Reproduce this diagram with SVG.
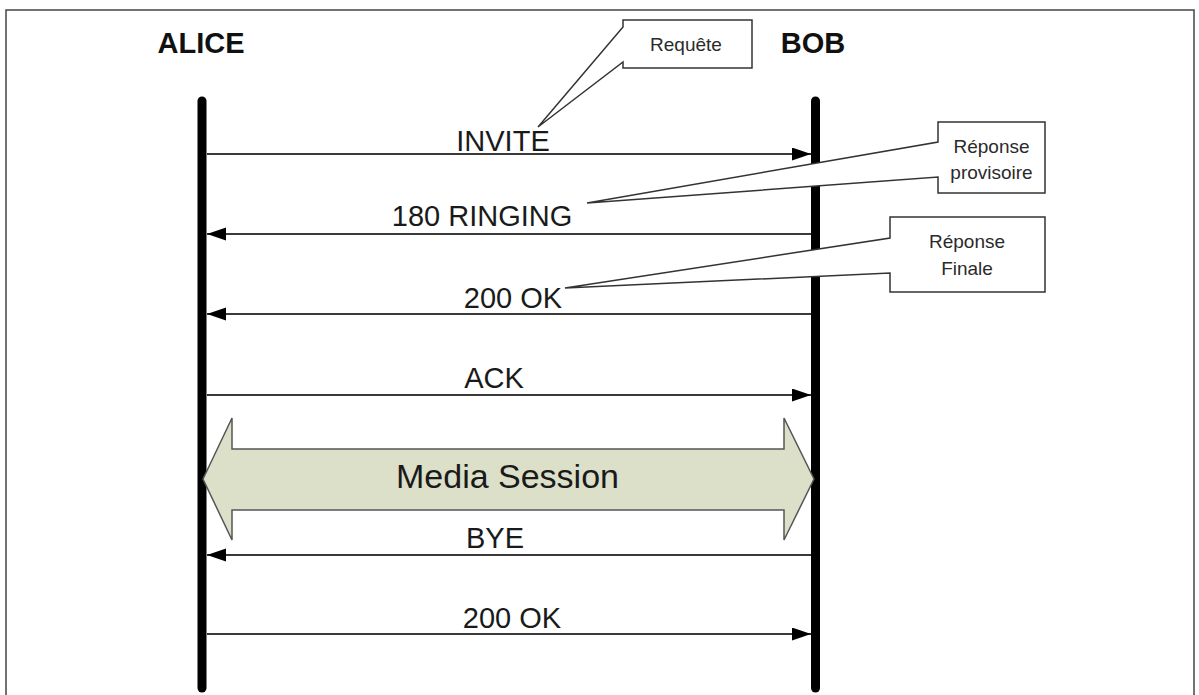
<svg xmlns="http://www.w3.org/2000/svg" width="1199" height="695" viewBox="0 0 1199 695">
  <style>
    .life { stroke: #000; stroke-width: 9; stroke-linecap: round; fill: none; }
    .msg { stroke: #3a3a3a; stroke-width: 2; fill: none; marker-end: url(#ah); }
    .lbl { font-family: "Liberation Sans", Arial, sans-serif; font-size: 29px; fill: #1a1a1a; text-anchor: middle; }
    .actor { font-family: "Liberation Sans", Arial, sans-serif; font-size: 29px; font-weight: bold; fill: #111; text-anchor: middle; }
    .call { fill: #fff; stroke: #333; stroke-width: 1.5; stroke-linejoin: miter; }
    .ctext { font-family: "Liberation Sans", Arial, sans-serif; font-size: 19px; fill: #2a2a2a; text-anchor: middle; }
  </style>
  <defs>
    <marker id="ah" markerUnits="userSpaceOnUse" markerWidth="20" markerHeight="14" refX="19" refY="6.5" orient="auto">
      <path d="M0,0 L19,6.5 L0,13 z" fill="#000"/>
    </marker>
  </defs>
  <rect x="0" y="0" width="1199" height="695" fill="#fff"/>
  <rect x="6" y="10" width="1188" height="700" fill="none" stroke="#444" stroke-width="1.5"/>

  <g id="alice">
    <text class="actor" x="201" y="53">ALICE</text>
    <line class="life" x1="202" y1="101" x2="202" y2="688"/>
  </g>
  <g id="bob">
    <text class="actor" x="813" y="53">BOB</text>
    <line class="life" x1="815.5" y1="101" x2="815.5" y2="688"/>
  </g>

  <g id="connectors">
    <line class="msg" x1="207" y1="154" x2="811" y2="154"/>
    <line class="msg" x1="811" y1="234" x2="207" y2="234"/>
    <line class="msg" x1="811" y1="314" x2="207" y2="314"/>
    <line class="msg" x1="207" y1="395" x2="811" y2="395"/>
    <line class="msg" x1="811" y1="555" x2="207" y2="555"/>
    <line class="msg" x1="207" y1="634" x2="811" y2="634"/>
  </g>

  <g id="labels">
    <text class="lbl" x="503" y="151">INVITE</text>
    <text class="lbl" x="482" y="226">180 RINGING</text>
    <text class="lbl" x="513" y="308">200 OK</text>
    <text class="lbl" x="494" y="388">ACK</text>
    <text class="lbl" x="495" y="548">BYE</text>
    <text class="lbl" x="512" y="628">200 OK</text>
  </g>

  <g id="media-session">
    <polygon points="203,479 232,418 232,449 784,449 784,418 814,479 784,540 784,510 232,510 232,540" fill="#dce0c9" stroke="#555" stroke-width="1.5"/>
    <text class="lbl" x="507.5" y="488" style="font-size:34px">Media Session</text>
  </g>

  <g id="callout-requete">
    <polygon class="call" points="623,20 752,20 752,68 623,68 623,62 538,127 623,27"/>
    <text class="ctext" x="686" y="51">Requête</text>
  </g>
  <g id="callout-provisoire">
    <polygon class="call" points="938,122 1045,122 1045,193 938,193 938,177 587,203 938,142"/>
    <text class="ctext" x="991.5" y="153">Réponse</text>
    <text class="ctext" x="991.5" y="179">provisoire</text>
  </g>
  <g id="callout-finale">
    <polygon class="call" points="890,217 1045,217 1045,292 890,292 890,273 565,288 890,238"/>
    <text class="ctext" x="967" y="248">Réponse</text>
    <text class="ctext" x="967" y="275">Finale</text>
  </g>
</svg>
